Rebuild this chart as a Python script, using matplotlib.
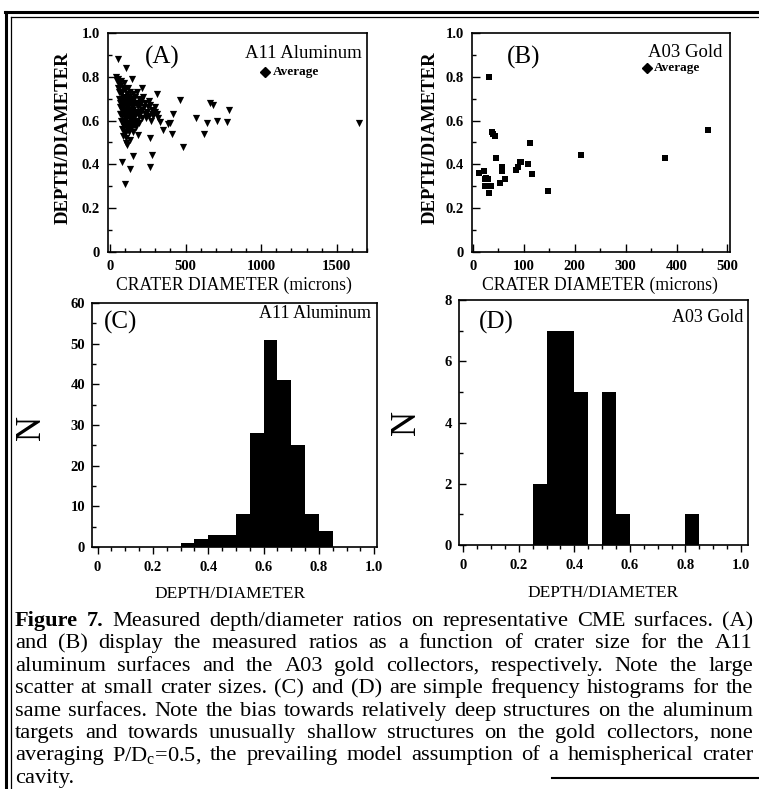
"""
Figure 7: depth/diameter ratios of craters on A11 aluminum and A03 gold
(scatter vs crater size, plus frequency histograms).
"""
import numpy as np
import matplotlib
matplotlib.use("Agg")
import matplotlib.pyplot as plt
from matplotlib.lines import Line2D
from matplotlib.ticker import MultipleLocator

plt.rcParams["font.family"] = ["Liberation Serif", "DejaVu Serif"]
plt.rcParams["mathtext.fontset"] = "custom"
plt.rcParams["mathtext.rm"] = "Liberation Serif"
plt.rcParams["mathtext.it"] = "Liberation Serif:italic"

W, H = 759, 789

# (A) A11 aluminum: crater diameter (microns) vs depth/diameter
al_diam = [42, 48, 55, 62, 52, 68, 75, 85, 95, 58,
           70, 82, 90, 100, 110, 120, 130, 140, 150, 165,
           60, 72, 85, 98, 108, 118, 128, 138, 148, 160,
           175, 190, 205, 220, 235, 250, 265, 280, 295, 180,
           65, 78, 88, 102, 112, 125, 135, 145, 155, 170,
           185, 200, 215, 230, 245, 260, 275, 300, 195, 210,
           70, 80, 92, 105, 115, 128, 140, 152, 165, 178,
           75, 85, 95, 108, 118, 130, 145, 160, 175, 190,
           80, 92, 100, 112, 125, 88, 105, 98, 135, 155,
           110, 125, 135, 145, 115, 122, 132, 142, 95, 105,
           78, 68, 88, 100, 112, 150, 165, 185, 200, 225,
           240, 255, 270, 285, 310, 320,
           55, 106, 143, 210, 309, 464, 662, 684, 790, 415,
           569, 640, 711, 773, 1649, 331, 386, 397, 349, 408,
           623, 486, 265, 188, 132, 106, 110, 150, 280, 77,
           132, 265, 99, 66]
al_ratio = [0.80, 0.78, 0.79, 0.77, 0.75, 0.76, 0.78, 0.75, 0.77, 0.73,
            0.72, 0.73, 0.71, 0.74, 0.72, 0.75, 0.73, 0.70, 0.72, 0.71,
            0.70, 0.69, 0.68, 0.70, 0.68, 0.69, 0.67, 0.68, 0.69, 0.67,
            0.68, 0.70, 0.69, 0.71, 0.68, 0.66, 0.67, 0.65, 0.66, 0.73,
            0.66, 0.65, 0.66, 0.65, 0.66, 0.64, 0.65, 0.63, 0.65, 0.64,
            0.66, 0.64, 0.65, 0.63, 0.64, 0.62, 0.63, 0.64, 0.62, 0.61,
            0.63, 0.62, 0.63, 0.62, 0.61, 0.62, 0.60, 0.61, 0.62, 0.60,
            0.60, 0.59, 0.60, 0.58, 0.59, 0.58, 0.57, 0.58, 0.57, 0.59,
            0.56, 0.57, 0.55, 0.56, 0.55, 0.53, 0.52, 0.54, 0.56, 0.55,
            0.70, 0.71, 0.69, 0.66, 0.64, 0.67, 0.61, 0.64, 0.67, 0.69,
            0.70, 0.68, 0.64, 0.61, 0.63, 0.59, 0.60, 0.63, 0.67, 0.66,
            0.61, 0.69, 0.60, 0.62, 0.63, 0.61,
            0.88, 0.84, 0.79, 0.75, 0.72, 0.695, 0.68, 0.67, 0.65, 0.63,
            0.61, 0.59, 0.60, 0.595, 0.59, 0.595, 0.585, 0.59, 0.557, 0.537,
            0.537, 0.48, 0.52, 0.535, 0.51, 0.50, 0.49, 0.44, 0.445, 0.41,
            0.38, 0.39, 0.31, 0.63]

# (B) A03 gold
au_diam = [32, 37, 40, 43, 45, 11, 21, 25, 30, 24,
           23, 35, 32, 56, 56, 63, 53, 84, 89, 92,
           95, 108, 111, 116, 147, 213, 377, 462]
au_ratio = [0.80, 0.55, 0.54, 0.53, 0.43, 0.36, 0.37, 0.34, 0.335, 0.335,
            0.30, 0.30, 0.27, 0.39, 0.37, 0.335, 0.315, 0.375, 0.39, 0.41,
            0.41, 0.40, 0.50, 0.355, 0.28, 0.445, 0.43, 0.555]

# (C), (D) histogram bins of width 0.05
bin_left = np.round(np.arange(0.0, 1.0, 0.05), 2)
al_counts = [0, 0, 0, 0, 0, 0, 1, 2, 3, 3, 8, 28, 51, 41, 25, 8, 4, 0, 0, 0]
au_counts = [0, 0, 0, 0, 0, 2, 7, 7, 5, 0, 5, 1, 0, 0, 0, 0, 1, 0, 0, 0]

fig = plt.figure(figsize=(W / 100, H / 100), dpi=100)


def axes_px(left, top, right, bottom):
    return fig.add_axes([left / W, 1 - bottom / H, (right - left) / W, (bottom - top) / H])


TICK_FS = 10.5


def style(ax):
    for s in ax.spines.values():
        s.set_linewidth(1.2)
    for lab in ax.get_xticklabels() + ax.get_yticklabels():
        lab.set_fontweight("bold")
        lab.set_fontsize(TICK_FS)


#
# (A) scatter
#
axA = axes_px(108, 33, 367, 252)
axA.scatter(al_diam, al_ratio, marker="v", s=27, color="black", linewidths=0)
axA.set_xlim(-13, 1700)
axA.set_ylim(0, 1.0)
axA.set_xticks([0, 500, 1000, 1500])
axA.xaxis.set_minor_locator(MultipleLocator(100))
axA.set_yticks([0, 0.2, 0.4, 0.6, 0.8, 1.0])
axA.set_yticklabels(["0", "0.2", "0.4", "0.6", "0.8", "1.0"])
axA.yaxis.set_minor_locator(MultipleLocator(0.1))
axA.tick_params(which="both", direction="in", top=False, right=False, width=1)
axA.tick_params(which="major", length=6, pad=6)
axA.tick_params(which="minor", length=3)
axA.set_ylabel("DEPTH/DIAMETER", fontsize=13.5, fontweight="bold")
axA.yaxis.set_label_coords(-0.14, 0.52)
axA.set_xlabel("CRATER DIAMETER (microns)", fontsize=12.7)
axA.xaxis.set_label_coords(0.485, -0.115)
axA.text(0.21, 0.89, "(A)", transform=axA.transAxes, fontsize=18, ha="center", va="center")
axA.text(0.98, 0.905, "A11 Aluminum", transform=axA.transAxes, fontsize=13.5, ha="right", va="center")
axA.plot([0.606], [0.82], marker="D", ms=5, color="black", transform=axA.transAxes)
axA.text(0.635, 0.82, "Average", transform=axA.transAxes, fontsize=9.5, fontweight="bold",
         ha="left", va="center")
style(axA)

#
# (B) scatter
#
axB = axes_px(472, 33, 730, 252)
axB.scatter(au_diam, au_ratio, marker="s", s=14, color="black", linewidths=0)
axB.set_xlim(-2, 505)
axB.set_ylim(0, 1.0)
axB.set_xticks([0, 100, 200, 300, 400, 500])
axB.xaxis.set_minor_locator(MultipleLocator(50))
axB.set_yticks([0, 0.2, 0.4, 0.6, 0.8, 1.0])
axB.set_yticklabels(["0", "0.2", "0.4", "0.6", "0.8", "1.0"])
axB.yaxis.set_minor_locator(MultipleLocator(0.1))
axB.tick_params(which="both", direction="in", top=False, right=False, width=1)
axB.tick_params(which="major", length=6, pad=6)
axB.tick_params(which="minor", length=3)
axB.set_ylabel("DEPTH/DIAMETER", fontsize=13.5, fontweight="bold")
axB.yaxis.set_label_coords(-0.128, 0.52)
axB.set_xlabel("CRATER DIAMETER (microns)", fontsize=12.7)
axB.xaxis.set_label_coords(0.495, -0.115)
axB.text(0.2, 0.89, "(B)", transform=axB.transAxes, fontsize=18, ha="center", va="center")
axB.text(0.97, 0.91, "A03 Gold", transform=axB.transAxes, fontsize=13.5, ha="right", va="center")
axB.plot([0.678], [0.84], marker="D", ms=5, color="black", transform=axB.transAxes)
axB.text(0.705, 0.84, "Average", transform=axB.transAxes, fontsize=9.5, fontweight="bold",
         ha="left", va="center")
style(axB)

#
# (C) histogram, aluminum
#
axC = axes_px(92, 303, 377, 547)
axC.bar(bin_left, al_counts, width=0.05, align="edge", color="black", linewidth=0)
axC.set_xlim(-0.02, 1.01)
axC.set_ylim(0, 60)
axC.set_xticks([0, 0.2, 0.4, 0.6, 0.8, 1.0])
axC.set_xticklabels(["0", "0.2", "0.4", "0.6", "0.8", "1.0"])
axC.xaxis.set_minor_locator(MultipleLocator(0.05))
axC.yaxis.set_major_locator(MultipleLocator(10))
axC.yaxis.set_minor_locator(MultipleLocator(5))
axC.tick_params(axis="x", which="both", direction="out", width=1)
axC.tick_params(axis="y", which="both", direction="in", width=1)
axC.tick_params(which="major", length=5, pad=5)
axC.tick_params(which="minor", length=3)
axC.set_ylabel("N", fontsize=25)
axC.yaxis.set_label_coords(-0.155, 0.49)
axC.set_xlabel("DEPTH/DIAMETER", fontsize=12.5)
axC.xaxis.set_label_coords(0.484, -0.16)
axC.text(0.1, 0.92, "(C)", transform=axC.transAxes, fontsize=18, ha="center", va="center")
axC.text(0.98, 0.955, "A11 Aluminum", transform=axC.transAxes, fontsize=13, ha="right", va="center")
style(axC)

#
# (D) histogram, gold
#
axD = axes_px(459, 300, 748, 545)
axD.bar(bin_left, au_counts, width=0.05, align="edge", color="black", linewidth=0)
axD.set_xlim(-0.015, 1.025)
axD.set_ylim(0, 8)
axD.set_xticks([0, 0.2, 0.4, 0.6, 0.8, 1.0])
axD.set_xticklabels(["0", "0.2", "0.4", "0.6", "0.8", "1.0"])
axD.xaxis.set_minor_locator(MultipleLocator(0.05))
axD.yaxis.set_major_locator(MultipleLocator(2))
axD.yaxis.set_minor_locator(MultipleLocator(1))
axD.tick_params(axis="x", which="both", direction="out", width=1)
axD.tick_params(axis="y", which="both", direction="in", width=1)
axD.tick_params(which="major", length=5, pad=5)
axD.tick_params(which="minor", length=3)
axD.set_ylabel("N", fontsize=25)
axD.yaxis.set_label_coords(-0.125, 0.5)
axD.set_xlabel("DEPTH/DIAMETER", fontsize=12.5)
axD.xaxis.set_label_coords(0.498, -0.165)
axD.text(0.128, 0.91, "(D)", transform=axD.transAxes, fontsize=18, ha="center", va="center")
axD.text(0.983, 0.93, "A03 Gold", transform=axD.transAxes, fontsize=13, ha="right", va="center")
style(axD)

#
# frame around the figure (double rule top and left)
#
def rule(x0, y0, x1, y1, lw):
    fig.add_artist(Line2D([x0 / W, x1 / W], [1 - y0 / H, 1 - y1 / H],
                          transform=fig.transFigure, color="black", lw=lw))


rule(5, 12, W, 12, 2.2)
rule(11, 17, W, 17, 0.9)
rule(6, 12, 6, H, 2.2)
rule(11, 17, 11, H, 0.9)
rule(552, 778, W, 778, 1.5)

#
# caption, justified line by line
#
caption = [
    "Figure 7.  Measured depth/diameter ratios on representative CME surfaces. (A)",
    "and (B) display the measured ratios as a function of crater size for the A11",
    "aluminum surfaces and the A03 gold collectors, respectively.  Note the large",
    "scatter at small crater sizes.  (C) and (D) are simple frequency histograms for the",
    "same surfaces.  Note the bias towards relatively deep structures on the aluminum",
    "targets and towards unusually shallow structures on the gold collectors, none",
    r"averaging P/D$_\mathrm{c}$=0.5, the prevailing model assumption of a hemispherical crater",
    "cavity.",
]
x_left, x_right = 15 / W, 753 / W
fig.canvas.draw()
renderer = fig.canvas.get_renderer()

# pick the size at which the longest line just fills the column
probe = fig.text(0, 0, caption[3], fontsize=12)
natural = probe.get_window_extent(renderer).width
probe.remove()
cap_fs = 12 * (x_right - x_left) * W / natural * 0.98

for i, line in enumerate(caption):
    y = 1 - (626 + i * 22.4) / H
    words = line.split()
    objs = []
    for j, w in enumerate(words):
        bold = i == 0 and j < 2
        objs.append(fig.text(0, y, w, fontsize=cap_fs, ha="left", va="baseline",
                             fontweight="bold" if bold else "normal"))
    widths = [t.get_window_extent(renderer).width / W for t in objs]
    if i < len(caption) - 1:
        gap = (x_right - x_left - sum(widths)) / (len(objs) - 1)
    else:
        gap = 4 / W
    x = x_left
    for t, w in zip(objs, widths):
        t.set_x(x)
        x += w + gap

fig.savefig("out.png", dpi=100)
